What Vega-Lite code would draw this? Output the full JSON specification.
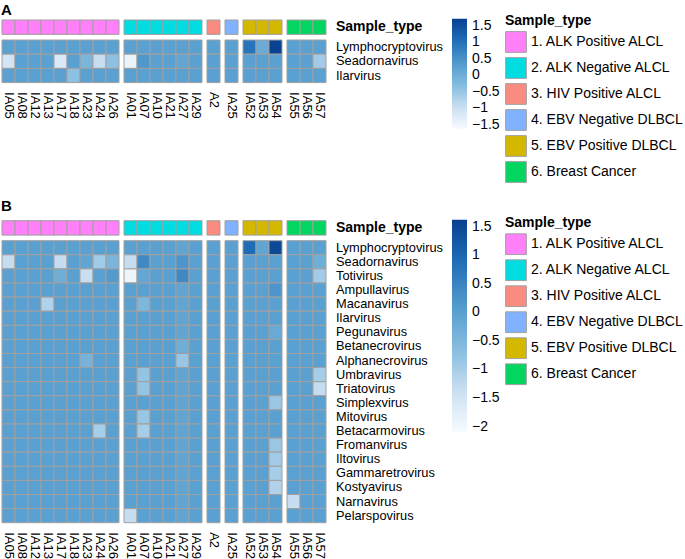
{
"$schema":"https://vega.github.io/schema/vega-lite/v6.json",
"padding":{"left":1,"top":2,"right":0,"bottom":0},
"autosize":{"type":"pad"},
"config":{"font":"Liberation Sans","view":{"stroke":null},
 "axis":{"labelColor":"#000","labelFont":"Liberation Sans"},
 "legend":{"labelColor":"#000","titleColor":"#000","labelFont":"Liberation Sans","titleFont":"Liberation Sans"},
 "title":{"color":"#000","font":"Liberation Sans"}},
"datasets":{
"annot":[
{"sample":"IA05","type":"1. ALK Positive ALCL"},{"sample":"IA08","type":"1. ALK Positive ALCL"},{"sample":"IA12","type":"1. ALK Positive ALCL"},{"sample":"IA13","type":"1. ALK Positive ALCL"},{"sample":"IA17","type":"1. ALK Positive ALCL"},{"sample":"IA18","type":"1. ALK Positive ALCL"},{"sample":"IA23","type":"1. ALK Positive ALCL"},{"sample":"IA24","type":"1. ALK Positive ALCL"},{"sample":"IA26","type":"1. ALK Positive ALCL"},
{"sample":"IA01","type":"2. ALK Negative ALCL"},{"sample":"IA07","type":"2. ALK Negative ALCL"},{"sample":"IA10","type":"2. ALK Negative ALCL"},{"sample":"IA21","type":"2. ALK Negative ALCL"},{"sample":"IA27","type":"2. ALK Negative ALCL"},{"sample":"IA29","type":"2. ALK Negative ALCL"},
{"sample":"A2","type":"3. HIV Positive ALCL"},
{"sample":"IA25","type":"4. EBV Negative DLBCL"},
{"sample":"IA52","type":"5. EBV Positive DLBCL"},{"sample":"IA53","type":"5. EBV Positive DLBCL"},{"sample":"IA54","type":"5. EBV Positive DLBCL"},
{"sample":"IA55","type":"6. Breast Cancer"},{"sample":"IA56","type":"6. Breast Cancer"},{"sample":"IA57","type":"6. Breast Cancer"}],
"heatA":[
{"sample":"IA05","virus":"Lymphocryptovirus","z":0.26},{"sample":"IA08","virus":"Lymphocryptovirus","z":0.26},{"sample":"IA12","virus":"Lymphocryptovirus","z":0.26},{"sample":"IA13","virus":"Lymphocryptovirus","z":0.26},{"sample":"IA17","virus":"Lymphocryptovirus","z":0.26},{"sample":"IA18","virus":"Lymphocryptovirus","z":0.26},{"sample":"IA23","virus":"Lymphocryptovirus","z":0.26},{"sample":"IA24","virus":"Lymphocryptovirus","z":0.26},{"sample":"IA26","virus":"Lymphocryptovirus","z":0.26},{"sample":"IA01","virus":"Lymphocryptovirus","z":0.26},{"sample":"IA07","virus":"Lymphocryptovirus","z":0.26},{"sample":"IA10","virus":"Lymphocryptovirus","z":0.26},{"sample":"IA21","virus":"Lymphocryptovirus","z":0.26},{"sample":"IA27","virus":"Lymphocryptovirus","z":0.26},{"sample":"IA29","virus":"Lymphocryptovirus","z":0.26},{"sample":"A2","virus":"Lymphocryptovirus","z":0.26},{"sample":"IA25","virus":"Lymphocryptovirus","z":0.26},{"sample":"IA52","virus":"Lymphocryptovirus","z":0.95},{"sample":"IA53","virus":"Lymphocryptovirus","z":0.05},{"sample":"IA54","virus":"Lymphocryptovirus","z":1.68},{"sample":"IA55","virus":"Lymphocryptovirus","z":0.26},{"sample":"IA56","virus":"Lymphocryptovirus","z":0.26},{"sample":"IA57","virus":"Lymphocryptovirus","z":0.26},
{"sample":"IA05","virus":"Seadornavirus","z":-1.1},{"sample":"IA08","virus":"Seadornavirus","z":0.26},{"sample":"IA12","virus":"Seadornavirus","z":0.26},{"sample":"IA13","virus":"Seadornavirus","z":0.26},{"sample":"IA17","virus":"Seadornavirus","z":-1.2},{"sample":"IA18","virus":"Seadornavirus","z":0.26},{"sample":"IA23","virus":"Seadornavirus","z":-0.15},{"sample":"IA24","virus":"Seadornavirus","z":-0.93},{"sample":"IA26","virus":"Seadornavirus","z":-0.4},{"sample":"IA01","virus":"Seadornavirus","z":-1.45},{"sample":"IA07","virus":"Seadornavirus","z":0.4},{"sample":"IA10","virus":"Seadornavirus","z":0.26},{"sample":"IA21","virus":"Seadornavirus","z":0.26},{"sample":"IA27","virus":"Seadornavirus","z":0.15},{"sample":"IA29","virus":"Seadornavirus","z":0.26},{"sample":"A2","virus":"Seadornavirus","z":0.26},{"sample":"IA25","virus":"Seadornavirus","z":0.26},{"sample":"IA52","virus":"Seadornavirus","z":0.26},{"sample":"IA53","virus":"Seadornavirus","z":0.26},{"sample":"IA54","virus":"Seadornavirus","z":0.26},{"sample":"IA55","virus":"Seadornavirus","z":0.26},{"sample":"IA56","virus":"Seadornavirus","z":0.26},{"sample":"IA57","virus":"Seadornavirus","z":-0.6},
{"sample":"IA05","virus":"Ilarvirus","z":0.26},{"sample":"IA08","virus":"Ilarvirus","z":0.26},{"sample":"IA12","virus":"Ilarvirus","z":0.26},{"sample":"IA13","virus":"Ilarvirus","z":0.26},{"sample":"IA17","virus":"Ilarvirus","z":0.26},{"sample":"IA18","virus":"Ilarvirus","z":-0.4},{"sample":"IA23","virus":"Ilarvirus","z":0.26},{"sample":"IA24","virus":"Ilarvirus","z":0.26},{"sample":"IA26","virus":"Ilarvirus","z":0.26},{"sample":"IA01","virus":"Ilarvirus","z":0.26},{"sample":"IA07","virus":"Ilarvirus","z":0.26},{"sample":"IA10","virus":"Ilarvirus","z":0.26},{"sample":"IA21","virus":"Ilarvirus","z":0.26},{"sample":"IA27","virus":"Ilarvirus","z":0.26},{"sample":"IA29","virus":"Ilarvirus","z":0.26},{"sample":"A2","virus":"Ilarvirus","z":0.26},{"sample":"IA25","virus":"Ilarvirus","z":0.26},{"sample":"IA52","virus":"Ilarvirus","z":0.26},{"sample":"IA53","virus":"Ilarvirus","z":0.26},{"sample":"IA54","virus":"Ilarvirus","z":0.26},{"sample":"IA55","virus":"Ilarvirus","z":0.26},{"sample":"IA56","virus":"Ilarvirus","z":0.26},{"sample":"IA57","virus":"Ilarvirus","z":0.26}],
"heatB":[
{"sample":"IA05","virus":"Lymphocryptovirus","z":0},{"sample":"IA08","virus":"Lymphocryptovirus","z":0},{"sample":"IA12","virus":"Lymphocryptovirus","z":0},{"sample":"IA13","virus":"Lymphocryptovirus","z":0},{"sample":"IA17","virus":"Lymphocryptovirus","z":0},{"sample":"IA18","virus":"Lymphocryptovirus","z":0},{"sample":"IA23","virus":"Lymphocryptovirus","z":0},{"sample":"IA24","virus":"Lymphocryptovirus","z":0},{"sample":"IA26","virus":"Lymphocryptovirus","z":0},{"sample":"IA01","virus":"Lymphocryptovirus","z":0},{"sample":"IA07","virus":"Lymphocryptovirus","z":0},{"sample":"IA10","virus":"Lymphocryptovirus","z":0},{"sample":"IA21","virus":"Lymphocryptovirus","z":0},{"sample":"IA27","virus":"Lymphocryptovirus","z":-0.1},{"sample":"IA29","virus":"Lymphocryptovirus","z":0},{"sample":"A2","virus":"Lymphocryptovirus","z":0},{"sample":"IA25","virus":"Lymphocryptovirus","z":0},{"sample":"IA52","virus":"Lymphocryptovirus","z":0.9},{"sample":"IA53","virus":"Lymphocryptovirus","z":-0.1},{"sample":"IA54","virus":"Lymphocryptovirus","z":1.5},{"sample":"IA55","virus":"Lymphocryptovirus","z":0},{"sample":"IA56","virus":"Lymphocryptovirus","z":0},{"sample":"IA57","virus":"Lymphocryptovirus","z":0},
{"sample":"IA05","virus":"Seadornavirus","z":-1.3},{"sample":"IA08","virus":"Seadornavirus","z":0},{"sample":"IA12","virus":"Seadornavirus","z":0},{"sample":"IA13","virus":"Seadornavirus","z":0},{"sample":"IA17","virus":"Seadornavirus","z":-1.3},{"sample":"IA18","virus":"Seadornavirus","z":0},{"sample":"IA23","virus":"Seadornavirus","z":-0.1},{"sample":"IA24","virus":"Seadornavirus","z":-0.95},{"sample":"IA26","virus":"Seadornavirus","z":-0.45},{"sample":"IA01","virus":"Seadornavirus","z":-1.3},{"sample":"IA07","virus":"Seadornavirus","z":0.4},{"sample":"IA10","virus":"Seadornavirus","z":0},{"sample":"IA21","virus":"Seadornavirus","z":0},{"sample":"IA27","virus":"Seadornavirus","z":0.2},{"sample":"IA29","virus":"Seadornavirus","z":0},{"sample":"A2","virus":"Seadornavirus","z":0},{"sample":"IA25","virus":"Seadornavirus","z":0},{"sample":"IA52","virus":"Seadornavirus","z":0},{"sample":"IA53","virus":"Seadornavirus","z":0},{"sample":"IA54","virus":"Seadornavirus","z":0},{"sample":"IA55","virus":"Seadornavirus","z":0},{"sample":"IA56","virus":"Seadornavirus","z":0},{"sample":"IA57","virus":"Seadornavirus","z":-0.3},
{"sample":"IA05","virus":"Totivirus","z":0},{"sample":"IA08","virus":"Totivirus","z":0},{"sample":"IA12","virus":"Totivirus","z":0},{"sample":"IA13","virus":"Totivirus","z":0},{"sample":"IA17","virus":"Totivirus","z":-0.3},{"sample":"IA18","virus":"Totivirus","z":0},{"sample":"IA23","virus":"Totivirus","z":-1.35},{"sample":"IA24","virus":"Totivirus","z":0},{"sample":"IA26","virus":"Totivirus","z":0.1},{"sample":"IA01","virus":"Totivirus","z":-1.95},{"sample":"IA07","virus":"Totivirus","z":-0.15},{"sample":"IA10","virus":"Totivirus","z":0},{"sample":"IA21","virus":"Totivirus","z":0},{"sample":"IA27","virus":"Totivirus","z":0.4},{"sample":"IA29","virus":"Totivirus","z":0},{"sample":"A2","virus":"Totivirus","z":0},{"sample":"IA25","virus":"Totivirus","z":0},{"sample":"IA52","virus":"Totivirus","z":0},{"sample":"IA53","virus":"Totivirus","z":0},{"sample":"IA54","virus":"Totivirus","z":0},{"sample":"IA55","virus":"Totivirus","z":0},{"sample":"IA56","virus":"Totivirus","z":0},{"sample":"IA57","virus":"Totivirus","z":-0.95},
{"sample":"IA05","virus":"Ampullavirus","z":0},{"sample":"IA08","virus":"Ampullavirus","z":0},{"sample":"IA12","virus":"Ampullavirus","z":0},{"sample":"IA13","virus":"Ampullavirus","z":0},{"sample":"IA17","virus":"Ampullavirus","z":0},{"sample":"IA18","virus":"Ampullavirus","z":0},{"sample":"IA23","virus":"Ampullavirus","z":0},{"sample":"IA24","virus":"Ampullavirus","z":0},{"sample":"IA26","virus":"Ampullavirus","z":0},{"sample":"IA01","virus":"Ampullavirus","z":0},{"sample":"IA07","virus":"Ampullavirus","z":0},{"sample":"IA10","virus":"Ampullavirus","z":0},{"sample":"IA21","virus":"Ampullavirus","z":0},{"sample":"IA27","virus":"Ampullavirus","z":-0.1},{"sample":"IA29","virus":"Ampullavirus","z":0},{"sample":"A2","virus":"Ampullavirus","z":0},{"sample":"IA25","virus":"Ampullavirus","z":0},{"sample":"IA52","virus":"Ampullavirus","z":0},{"sample":"IA53","virus":"Ampullavirus","z":0},{"sample":"IA54","virus":"Ampullavirus","z":0.2},{"sample":"IA55","virus":"Ampullavirus","z":0},{"sample":"IA56","virus":"Ampullavirus","z":0},{"sample":"IA57","virus":"Ampullavirus","z":0},
{"sample":"IA05","virus":"Macanavirus","z":0},{"sample":"IA08","virus":"Macanavirus","z":0},{"sample":"IA12","virus":"Macanavirus","z":0},{"sample":"IA13","virus":"Macanavirus","z":-1.1},{"sample":"IA17","virus":"Macanavirus","z":0},{"sample":"IA18","virus":"Macanavirus","z":0},{"sample":"IA23","virus":"Macanavirus","z":0},{"sample":"IA24","virus":"Macanavirus","z":0},{"sample":"IA26","virus":"Macanavirus","z":0},{"sample":"IA01","virus":"Macanavirus","z":0},{"sample":"IA07","virus":"Macanavirus","z":-0.5},{"sample":"IA10","virus":"Macanavirus","z":0},{"sample":"IA21","virus":"Macanavirus","z":0},{"sample":"IA27","virus":"Macanavirus","z":-0.1},{"sample":"IA29","virus":"Macanavirus","z":0},{"sample":"A2","virus":"Macanavirus","z":0},{"sample":"IA25","virus":"Macanavirus","z":0},{"sample":"IA52","virus":"Macanavirus","z":0},{"sample":"IA53","virus":"Macanavirus","z":0},{"sample":"IA54","virus":"Macanavirus","z":0},{"sample":"IA55","virus":"Macanavirus","z":0},{"sample":"IA56","virus":"Macanavirus","z":0},{"sample":"IA57","virus":"Macanavirus","z":0},
{"sample":"IA05","virus":"Ilarvirus","z":0},{"sample":"IA08","virus":"Ilarvirus","z":0},{"sample":"IA12","virus":"Ilarvirus","z":0},{"sample":"IA13","virus":"Ilarvirus","z":0},{"sample":"IA17","virus":"Ilarvirus","z":0},{"sample":"IA18","virus":"Ilarvirus","z":0},{"sample":"IA23","virus":"Ilarvirus","z":0},{"sample":"IA24","virus":"Ilarvirus","z":0},{"sample":"IA26","virus":"Ilarvirus","z":0},{"sample":"IA01","virus":"Ilarvirus","z":0},{"sample":"IA07","virus":"Ilarvirus","z":0},{"sample":"IA10","virus":"Ilarvirus","z":0},{"sample":"IA21","virus":"Ilarvirus","z":0},{"sample":"IA27","virus":"Ilarvirus","z":-0.1},{"sample":"IA29","virus":"Ilarvirus","z":0},{"sample":"A2","virus":"Ilarvirus","z":0},{"sample":"IA25","virus":"Ilarvirus","z":0},{"sample":"IA52","virus":"Ilarvirus","z":0},{"sample":"IA53","virus":"Ilarvirus","z":0},{"sample":"IA54","virus":"Ilarvirus","z":0},{"sample":"IA55","virus":"Ilarvirus","z":0},{"sample":"IA56","virus":"Ilarvirus","z":0},{"sample":"IA57","virus":"Ilarvirus","z":0},
{"sample":"IA05","virus":"Pegunavirus","z":0},{"sample":"IA08","virus":"Pegunavirus","z":0},{"sample":"IA12","virus":"Pegunavirus","z":0},{"sample":"IA13","virus":"Pegunavirus","z":0},{"sample":"IA17","virus":"Pegunavirus","z":0},{"sample":"IA18","virus":"Pegunavirus","z":0},{"sample":"IA23","virus":"Pegunavirus","z":0},{"sample":"IA24","virus":"Pegunavirus","z":0},{"sample":"IA26","virus":"Pegunavirus","z":0},{"sample":"IA01","virus":"Pegunavirus","z":0},{"sample":"IA07","virus":"Pegunavirus","z":0},{"sample":"IA10","virus":"Pegunavirus","z":0},{"sample":"IA21","virus":"Pegunavirus","z":0},{"sample":"IA27","virus":"Pegunavirus","z":-0.1},{"sample":"IA29","virus":"Pegunavirus","z":0},{"sample":"A2","virus":"Pegunavirus","z":0},{"sample":"IA25","virus":"Pegunavirus","z":0},{"sample":"IA52","virus":"Pegunavirus","z":0},{"sample":"IA53","virus":"Pegunavirus","z":0},{"sample":"IA54","virus":"Pegunavirus","z":-0.2},{"sample":"IA55","virus":"Pegunavirus","z":0},{"sample":"IA56","virus":"Pegunavirus","z":0},{"sample":"IA57","virus":"Pegunavirus","z":0},
{"sample":"IA05","virus":"Betanecrovirus","z":0},{"sample":"IA08","virus":"Betanecrovirus","z":0},{"sample":"IA12","virus":"Betanecrovirus","z":0},{"sample":"IA13","virus":"Betanecrovirus","z":0},{"sample":"IA17","virus":"Betanecrovirus","z":0},{"sample":"IA18","virus":"Betanecrovirus","z":0},{"sample":"IA23","virus":"Betanecrovirus","z":0},{"sample":"IA24","virus":"Betanecrovirus","z":0},{"sample":"IA26","virus":"Betanecrovirus","z":0},{"sample":"IA01","virus":"Betanecrovirus","z":0},{"sample":"IA07","virus":"Betanecrovirus","z":0},{"sample":"IA10","virus":"Betanecrovirus","z":0},{"sample":"IA21","virus":"Betanecrovirus","z":0},{"sample":"IA27","virus":"Betanecrovirus","z":-0.3},{"sample":"IA29","virus":"Betanecrovirus","z":0},{"sample":"A2","virus":"Betanecrovirus","z":0},{"sample":"IA25","virus":"Betanecrovirus","z":0},{"sample":"IA52","virus":"Betanecrovirus","z":0},{"sample":"IA53","virus":"Betanecrovirus","z":0},{"sample":"IA54","virus":"Betanecrovirus","z":0},{"sample":"IA55","virus":"Betanecrovirus","z":0},{"sample":"IA56","virus":"Betanecrovirus","z":0},{"sample":"IA57","virus":"Betanecrovirus","z":0},
{"sample":"IA05","virus":"Alphanecrovirus","z":0},{"sample":"IA08","virus":"Alphanecrovirus","z":0},{"sample":"IA12","virus":"Alphanecrovirus","z":0},{"sample":"IA13","virus":"Alphanecrovirus","z":0},{"sample":"IA17","virus":"Alphanecrovirus","z":0},{"sample":"IA18","virus":"Alphanecrovirus","z":0},{"sample":"IA23","virus":"Alphanecrovirus","z":-0.4},{"sample":"IA24","virus":"Alphanecrovirus","z":0},{"sample":"IA26","virus":"Alphanecrovirus","z":0},{"sample":"IA01","virus":"Alphanecrovirus","z":0},{"sample":"IA07","virus":"Alphanecrovirus","z":0},{"sample":"IA10","virus":"Alphanecrovirus","z":0},{"sample":"IA21","virus":"Alphanecrovirus","z":0},{"sample":"IA27","virus":"Alphanecrovirus","z":-0.85},{"sample":"IA29","virus":"Alphanecrovirus","z":0},{"sample":"A2","virus":"Alphanecrovirus","z":0},{"sample":"IA25","virus":"Alphanecrovirus","z":0},{"sample":"IA52","virus":"Alphanecrovirus","z":0},{"sample":"IA53","virus":"Alphanecrovirus","z":0},{"sample":"IA54","virus":"Alphanecrovirus","z":0},{"sample":"IA55","virus":"Alphanecrovirus","z":0},{"sample":"IA56","virus":"Alphanecrovirus","z":0},{"sample":"IA57","virus":"Alphanecrovirus","z":0},
{"sample":"IA05","virus":"Umbravirus","z":0},{"sample":"IA08","virus":"Umbravirus","z":0},{"sample":"IA12","virus":"Umbravirus","z":0},{"sample":"IA13","virus":"Umbravirus","z":0},{"sample":"IA17","virus":"Umbravirus","z":0},{"sample":"IA18","virus":"Umbravirus","z":0},{"sample":"IA23","virus":"Umbravirus","z":0},{"sample":"IA24","virus":"Umbravirus","z":0},{"sample":"IA26","virus":"Umbravirus","z":0},{"sample":"IA01","virus":"Umbravirus","z":0},{"sample":"IA07","virus":"Umbravirus","z":-0.8},{"sample":"IA10","virus":"Umbravirus","z":0},{"sample":"IA21","virus":"Umbravirus","z":0},{"sample":"IA27","virus":"Umbravirus","z":-0.1},{"sample":"IA29","virus":"Umbravirus","z":0},{"sample":"A2","virus":"Umbravirus","z":0},{"sample":"IA25","virus":"Umbravirus","z":0},{"sample":"IA52","virus":"Umbravirus","z":0},{"sample":"IA53","virus":"Umbravirus","z":0},{"sample":"IA54","virus":"Umbravirus","z":0},{"sample":"IA55","virus":"Umbravirus","z":0},{"sample":"IA56","virus":"Umbravirus","z":0},{"sample":"IA57","virus":"Umbravirus","z":-1.0},
{"sample":"IA05","virus":"Triatovirus","z":0},{"sample":"IA08","virus":"Triatovirus","z":0},{"sample":"IA12","virus":"Triatovirus","z":0},{"sample":"IA13","virus":"Triatovirus","z":0},{"sample":"IA17","virus":"Triatovirus","z":0},{"sample":"IA18","virus":"Triatovirus","z":0},{"sample":"IA23","virus":"Triatovirus","z":0},{"sample":"IA24","virus":"Triatovirus","z":0},{"sample":"IA26","virus":"Triatovirus","z":0},{"sample":"IA01","virus":"Triatovirus","z":0},{"sample":"IA07","virus":"Triatovirus","z":-0.8},{"sample":"IA10","virus":"Triatovirus","z":0},{"sample":"IA21","virus":"Triatovirus","z":0},{"sample":"IA27","virus":"Triatovirus","z":-0.1},{"sample":"IA29","virus":"Triatovirus","z":0},{"sample":"A2","virus":"Triatovirus","z":0},{"sample":"IA25","virus":"Triatovirus","z":0},{"sample":"IA52","virus":"Triatovirus","z":0},{"sample":"IA53","virus":"Triatovirus","z":0},{"sample":"IA54","virus":"Triatovirus","z":0},{"sample":"IA55","virus":"Triatovirus","z":0},{"sample":"IA56","virus":"Triatovirus","z":0},{"sample":"IA57","virus":"Triatovirus","z":-1.3},
{"sample":"IA05","virus":"Simplexvirus","z":0},{"sample":"IA08","virus":"Simplexvirus","z":0},{"sample":"IA12","virus":"Simplexvirus","z":0},{"sample":"IA13","virus":"Simplexvirus","z":0},{"sample":"IA17","virus":"Simplexvirus","z":0},{"sample":"IA18","virus":"Simplexvirus","z":0},{"sample":"IA23","virus":"Simplexvirus","z":0},{"sample":"IA24","virus":"Simplexvirus","z":0},{"sample":"IA26","virus":"Simplexvirus","z":0},{"sample":"IA01","virus":"Simplexvirus","z":0},{"sample":"IA07","virus":"Simplexvirus","z":0},{"sample":"IA10","virus":"Simplexvirus","z":0},{"sample":"IA21","virus":"Simplexvirus","z":0},{"sample":"IA27","virus":"Simplexvirus","z":-0.1},{"sample":"IA29","virus":"Simplexvirus","z":0},{"sample":"A2","virus":"Simplexvirus","z":0},{"sample":"IA25","virus":"Simplexvirus","z":0},{"sample":"IA52","virus":"Simplexvirus","z":0},{"sample":"IA53","virus":"Simplexvirus","z":0},{"sample":"IA54","virus":"Simplexvirus","z":-0.85},{"sample":"IA55","virus":"Simplexvirus","z":0},{"sample":"IA56","virus":"Simplexvirus","z":0},{"sample":"IA57","virus":"Simplexvirus","z":0},
{"sample":"IA05","virus":"Mitovirus","z":0},{"sample":"IA08","virus":"Mitovirus","z":0},{"sample":"IA12","virus":"Mitovirus","z":0},{"sample":"IA13","virus":"Mitovirus","z":0},{"sample":"IA17","virus":"Mitovirus","z":0},{"sample":"IA18","virus":"Mitovirus","z":0},{"sample":"IA23","virus":"Mitovirus","z":0},{"sample":"IA24","virus":"Mitovirus","z":0},{"sample":"IA26","virus":"Mitovirus","z":0},{"sample":"IA01","virus":"Mitovirus","z":0},{"sample":"IA07","virus":"Mitovirus","z":-0.85},{"sample":"IA10","virus":"Mitovirus","z":0},{"sample":"IA21","virus":"Mitovirus","z":0},{"sample":"IA27","virus":"Mitovirus","z":-0.1},{"sample":"IA29","virus":"Mitovirus","z":0},{"sample":"A2","virus":"Mitovirus","z":0},{"sample":"IA25","virus":"Mitovirus","z":0},{"sample":"IA52","virus":"Mitovirus","z":0},{"sample":"IA53","virus":"Mitovirus","z":0},{"sample":"IA54","virus":"Mitovirus","z":0},{"sample":"IA55","virus":"Mitovirus","z":0},{"sample":"IA56","virus":"Mitovirus","z":0},{"sample":"IA57","virus":"Mitovirus","z":0},
{"sample":"IA05","virus":"Betacarmovirus","z":0},{"sample":"IA08","virus":"Betacarmovirus","z":0},{"sample":"IA12","virus":"Betacarmovirus","z":0},{"sample":"IA13","virus":"Betacarmovirus","z":0},{"sample":"IA17","virus":"Betacarmovirus","z":0},{"sample":"IA18","virus":"Betacarmovirus","z":0},{"sample":"IA23","virus":"Betacarmovirus","z":0},{"sample":"IA24","virus":"Betacarmovirus","z":-1.0},{"sample":"IA26","virus":"Betacarmovirus","z":0},{"sample":"IA01","virus":"Betacarmovirus","z":0},{"sample":"IA07","virus":"Betacarmovirus","z":-1.0},{"sample":"IA10","virus":"Betacarmovirus","z":0},{"sample":"IA21","virus":"Betacarmovirus","z":0},{"sample":"IA27","virus":"Betacarmovirus","z":-0.1},{"sample":"IA29","virus":"Betacarmovirus","z":0},{"sample":"A2","virus":"Betacarmovirus","z":0},{"sample":"IA25","virus":"Betacarmovirus","z":0},{"sample":"IA52","virus":"Betacarmovirus","z":0},{"sample":"IA53","virus":"Betacarmovirus","z":0},{"sample":"IA54","virus":"Betacarmovirus","z":0},{"sample":"IA55","virus":"Betacarmovirus","z":0},{"sample":"IA56","virus":"Betacarmovirus","z":0},{"sample":"IA57","virus":"Betacarmovirus","z":0},
{"sample":"IA05","virus":"Fromanvirus","z":0},{"sample":"IA08","virus":"Fromanvirus","z":0},{"sample":"IA12","virus":"Fromanvirus","z":0},{"sample":"IA13","virus":"Fromanvirus","z":0},{"sample":"IA17","virus":"Fromanvirus","z":0},{"sample":"IA18","virus":"Fromanvirus","z":0},{"sample":"IA23","virus":"Fromanvirus","z":0},{"sample":"IA24","virus":"Fromanvirus","z":0},{"sample":"IA26","virus":"Fromanvirus","z":0},{"sample":"IA01","virus":"Fromanvirus","z":0},{"sample":"IA07","virus":"Fromanvirus","z":0},{"sample":"IA10","virus":"Fromanvirus","z":0},{"sample":"IA21","virus":"Fromanvirus","z":0},{"sample":"IA27","virus":"Fromanvirus","z":-0.1},{"sample":"IA29","virus":"Fromanvirus","z":0},{"sample":"A2","virus":"Fromanvirus","z":0},{"sample":"IA25","virus":"Fromanvirus","z":0},{"sample":"IA52","virus":"Fromanvirus","z":0},{"sample":"IA53","virus":"Fromanvirus","z":0},{"sample":"IA54","virus":"Fromanvirus","z":-0.85},{"sample":"IA55","virus":"Fromanvirus","z":0},{"sample":"IA56","virus":"Fromanvirus","z":0},{"sample":"IA57","virus":"Fromanvirus","z":0},
{"sample":"IA05","virus":"Iltovirus","z":0},{"sample":"IA08","virus":"Iltovirus","z":0},{"sample":"IA12","virus":"Iltovirus","z":0},{"sample":"IA13","virus":"Iltovirus","z":0},{"sample":"IA17","virus":"Iltovirus","z":0},{"sample":"IA18","virus":"Iltovirus","z":0},{"sample":"IA23","virus":"Iltovirus","z":0},{"sample":"IA24","virus":"Iltovirus","z":0},{"sample":"IA26","virus":"Iltovirus","z":0},{"sample":"IA01","virus":"Iltovirus","z":0},{"sample":"IA07","virus":"Iltovirus","z":0},{"sample":"IA10","virus":"Iltovirus","z":0},{"sample":"IA21","virus":"Iltovirus","z":0},{"sample":"IA27","virus":"Iltovirus","z":-0.1},{"sample":"IA29","virus":"Iltovirus","z":0},{"sample":"A2","virus":"Iltovirus","z":0},{"sample":"IA25","virus":"Iltovirus","z":0},{"sample":"IA52","virus":"Iltovirus","z":0},{"sample":"IA53","virus":"Iltovirus","z":0},{"sample":"IA54","virus":"Iltovirus","z":-0.95},{"sample":"IA55","virus":"Iltovirus","z":0},{"sample":"IA56","virus":"Iltovirus","z":0},{"sample":"IA57","virus":"Iltovirus","z":0},
{"sample":"IA05","virus":"Gammaretrovirus","z":0},{"sample":"IA08","virus":"Gammaretrovirus","z":0},{"sample":"IA12","virus":"Gammaretrovirus","z":0},{"sample":"IA13","virus":"Gammaretrovirus","z":0},{"sample":"IA17","virus":"Gammaretrovirus","z":0},{"sample":"IA18","virus":"Gammaretrovirus","z":0},{"sample":"IA23","virus":"Gammaretrovirus","z":0},{"sample":"IA24","virus":"Gammaretrovirus","z":0},{"sample":"IA26","virus":"Gammaretrovirus","z":0},{"sample":"IA01","virus":"Gammaretrovirus","z":0},{"sample":"IA07","virus":"Gammaretrovirus","z":0},{"sample":"IA10","virus":"Gammaretrovirus","z":0},{"sample":"IA21","virus":"Gammaretrovirus","z":0},{"sample":"IA27","virus":"Gammaretrovirus","z":-0.1},{"sample":"IA29","virus":"Gammaretrovirus","z":0},{"sample":"A2","virus":"Gammaretrovirus","z":0},{"sample":"IA25","virus":"Gammaretrovirus","z":0},{"sample":"IA52","virus":"Gammaretrovirus","z":0},{"sample":"IA53","virus":"Gammaretrovirus","z":0},{"sample":"IA54","virus":"Gammaretrovirus","z":-1.0},{"sample":"IA55","virus":"Gammaretrovirus","z":0},{"sample":"IA56","virus":"Gammaretrovirus","z":0},{"sample":"IA57","virus":"Gammaretrovirus","z":0},
{"sample":"IA05","virus":"Kostyavirus","z":0},{"sample":"IA08","virus":"Kostyavirus","z":0},{"sample":"IA12","virus":"Kostyavirus","z":0},{"sample":"IA13","virus":"Kostyavirus","z":0},{"sample":"IA17","virus":"Kostyavirus","z":0},{"sample":"IA18","virus":"Kostyavirus","z":0},{"sample":"IA23","virus":"Kostyavirus","z":0},{"sample":"IA24","virus":"Kostyavirus","z":0},{"sample":"IA26","virus":"Kostyavirus","z":0},{"sample":"IA01","virus":"Kostyavirus","z":0},{"sample":"IA07","virus":"Kostyavirus","z":0},{"sample":"IA10","virus":"Kostyavirus","z":0},{"sample":"IA21","virus":"Kostyavirus","z":0},{"sample":"IA27","virus":"Kostyavirus","z":-0.1},{"sample":"IA29","virus":"Kostyavirus","z":0},{"sample":"A2","virus":"Kostyavirus","z":0},{"sample":"IA25","virus":"Kostyavirus","z":0},{"sample":"IA52","virus":"Kostyavirus","z":0},{"sample":"IA53","virus":"Kostyavirus","z":0},{"sample":"IA54","virus":"Kostyavirus","z":-1.1},{"sample":"IA55","virus":"Kostyavirus","z":0},{"sample":"IA56","virus":"Kostyavirus","z":0},{"sample":"IA57","virus":"Kostyavirus","z":0},
{"sample":"IA05","virus":"Narnavirus","z":0},{"sample":"IA08","virus":"Narnavirus","z":0},{"sample":"IA12","virus":"Narnavirus","z":0},{"sample":"IA13","virus":"Narnavirus","z":0},{"sample":"IA17","virus":"Narnavirus","z":0},{"sample":"IA18","virus":"Narnavirus","z":0},{"sample":"IA23","virus":"Narnavirus","z":0},{"sample":"IA24","virus":"Narnavirus","z":0},{"sample":"IA26","virus":"Narnavirus","z":0},{"sample":"IA01","virus":"Narnavirus","z":0},{"sample":"IA07","virus":"Narnavirus","z":0},{"sample":"IA10","virus":"Narnavirus","z":0},{"sample":"IA21","virus":"Narnavirus","z":0},{"sample":"IA27","virus":"Narnavirus","z":-0.1},{"sample":"IA29","virus":"Narnavirus","z":0},{"sample":"A2","virus":"Narnavirus","z":0},{"sample":"IA25","virus":"Narnavirus","z":0},{"sample":"IA52","virus":"Narnavirus","z":0},{"sample":"IA53","virus":"Narnavirus","z":0},{"sample":"IA54","virus":"Narnavirus","z":0},{"sample":"IA55","virus":"Narnavirus","z":-1.3},{"sample":"IA56","virus":"Narnavirus","z":0},{"sample":"IA57","virus":"Narnavirus","z":0},
{"sample":"IA05","virus":"Pelarspovirus","z":0},{"sample":"IA08","virus":"Pelarspovirus","z":0},{"sample":"IA12","virus":"Pelarspovirus","z":0},{"sample":"IA13","virus":"Pelarspovirus","z":0},{"sample":"IA17","virus":"Pelarspovirus","z":0},{"sample":"IA18","virus":"Pelarspovirus","z":0},{"sample":"IA23","virus":"Pelarspovirus","z":0},{"sample":"IA24","virus":"Pelarspovirus","z":0},{"sample":"IA26","virus":"Pelarspovirus","z":0},{"sample":"IA01","virus":"Pelarspovirus","z":-1.3},{"sample":"IA07","virus":"Pelarspovirus","z":0},{"sample":"IA10","virus":"Pelarspovirus","z":0},{"sample":"IA21","virus":"Pelarspovirus","z":0},{"sample":"IA27","virus":"Pelarspovirus","z":-0.1},{"sample":"IA29","virus":"Pelarspovirus","z":0},{"sample":"A2","virus":"Pelarspovirus","z":0},{"sample":"IA25","virus":"Pelarspovirus","z":0},{"sample":"IA52","virus":"Pelarspovirus","z":0},{"sample":"IA53","virus":"Pelarspovirus","z":0},{"sample":"IA54","virus":"Pelarspovirus","z":0},{"sample":"IA55","virus":"Pelarspovirus","z":0},{"sample":"IA56","virus":"Pelarspovirus","z":0},{"sample":"IA57","virus":"Pelarspovirus","z":0}]
},
"spacing":13.7,
"resolve":{"scale":{"color":"independent","fill":"independent"}},
"vconcat":[
{"title":{"text":"A","anchor":"start","fontSize":15,"fontWeight":"bold","offset":-3.7},
 "spacing":4,
 "vconcat":[
  {"data":{"name":"annot"},
   "facet":{"column":{"field":"type","type":"nominal","header":{"title":null,"labels":false}}},
   "spacing":5,
   "bounds":"flush",
   "resolve":{"scale":{"x":"independent"}},
   "spec":{"width":{"step":13},"height":{"step":14.4},
    "mark":{"type":"rect","stroke":"#a0a0a0","strokeWidth":1},
    "encoding":{
     "x":{"field":"sample","type":"nominal","axis":null,"scale":{"paddingInner":0,"paddingOuter":0}},
     "y":{"datum":"Sample_type","type":"nominal","scale":{"paddingInner":0,"paddingOuter":0},"axis":{"orient":"right","title":null,"ticks":false,"domain":false,"labelPadding":9.5,"labelFontSize":14,"labelFontWeight":"bold"}},
     "fill":{"field":"type","type":"nominal","scale":{"domain":["1. ALK Positive ALCL","2. ALK Negative ALCL","3. HIV Positive ALCL","4. EBV Negative DLBCL","5. EBV Positive DLBCL","6. Breast Cancer"],"range":["#FF80F8","#00DCE0","#FA8B80","#80B2FF","#D4B800","#03D660"]},
      "legend":{"orient":"none","legendX":503,"legendY":-6,"title":"Sample_type","titleFontSize":14,"titleFontWeight":"bold","titlePadding":3,"labelFontSize":14,"symbolType":"square","symbolSize":430,"symbolStrokeColor":"#a0a0a0","symbolStrokeWidth":1,"rowPadding":0,"labelOffset":4,"padding":0}}
    }}},
  {"data":{"name":"heatA"},
   "transform":[{"lookup":"sample","from":{"data":{"name":"annot"},"key":"sample","fields":["type"]}}],
   "facet":{"column":{"field":"type","type":"nominal","header":{"title":null,"labels":false}}},
   "spacing":5,
   "bounds":"flush",
   "resolve":{"scale":{"x":"independent"}},
   "spec":{"width":{"step":13},"height":{"step":14.2},
    "mark":{"type":"rect","stroke":"#a0a0a0","strokeWidth":1},
    "encoding":{
     "x":{"field":"sample","type":"nominal","scale":{"paddingInner":0,"paddingOuter":0},"axis":{"title":null,"labelAngle":90,"labelAlign":"left","labelBaseline":"middle","ticks":false,"domain":false,"labelPadding":9,"labelFontSize":13,"labelOverlap":false}},
     "y":{"field":"virus","type":"nominal","sort":["Lymphocryptovirus","Seadornavirus","Ilarvirus"],"scale":{"paddingInner":0,"paddingOuter":0},"axis":{"orient":"right","title":null,"ticks":false,"domain":false,"labelPadding":9.5,"labelFontSize":12.8}},
     "color":{"field":"z","type":"quantitative","scale":{"domain":[-1.62,-0.91,-0.46,0.26,1.06,1.71],"range":["#f7fbff","#c6dcf0","#93c4e3","#5aa0d0","#1f6db6","#08408f"],"interpolate":"rgb"},
      "legend":{"orient":"none","legendX":450,"legendY":-1.3,"direction":"vertical","title":null,"gradientLength":110,"gradientThickness":15,"gradientStrokeWidth":0,"values":[-1.5,-1,-0.5,0,0.5,1,1.5],"format":".1~f","labelFontSize":14,"labelOffset":5,"padding":0}}
    }}}
 ]},
{"title":{"text":"B","anchor":"start","fontSize":15,"fontWeight":"bold","offset":2},
 "spacing":4,
 "vconcat":[
  {"data":{"name":"annot"},
   "facet":{"column":{"field":"type","type":"nominal","header":{"title":null,"labels":false}}},
   "spacing":5,
   "bounds":"flush",
   "resolve":{"scale":{"x":"independent"}},
   "spec":{"width":{"step":13},"height":{"step":14.4},
    "mark":{"type":"rect","stroke":"#a0a0a0","strokeWidth":1},
    "encoding":{
     "x":{"field":"sample","type":"nominal","axis":null,"scale":{"paddingInner":0,"paddingOuter":0}},
     "y":{"datum":"Sample_type","type":"nominal","scale":{"paddingInner":0,"paddingOuter":0},"axis":{"orient":"right","title":null,"ticks":false,"domain":false,"labelPadding":9.5,"labelFontSize":14,"labelFontWeight":"bold"}},
     "fill":{"field":"type","type":"nominal","scale":{"domain":["1. ALK Positive ALCL","2. ALK Negative ALCL","3. HIV Positive ALCL","4. EBV Negative DLBCL","5. EBV Positive DLBCL","6. Breast Cancer"],"range":["#FF80F8","#00DCE0","#FA8B80","#80B2FF","#D4B800","#03D660"]},
      "legend":{"orient":"none","legendX":503,"legendY":-4.5,"title":"Sample_type","titleFontSize":14,"titleFontWeight":"bold","titlePadding":3,"labelFontSize":14,"symbolType":"square","symbolSize":430,"symbolStrokeColor":"#a0a0a0","symbolStrokeWidth":1,"rowPadding":0,"labelOffset":4,"padding":0}}
    }}},
  {"data":{"name":"heatB"},
   "transform":[{"lookup":"sample","from":{"data":{"name":"annot"},"key":"sample","fields":["type"]}}],
   "facet":{"column":{"field":"type","type":"nominal","header":{"title":null,"labels":false}}},
   "spacing":5,
   "bounds":"flush",
   "resolve":{"scale":{"x":"independent"}},
   "spec":{"width":{"step":13},"height":{"step":14.1},
    "mark":{"type":"rect","stroke":"#a0a0a0","strokeWidth":1},
    "encoding":{
     "x":{"field":"sample","type":"nominal","scale":{"paddingInner":0,"paddingOuter":0},"axis":{"title":null,"labelAngle":90,"labelAlign":"left","labelBaseline":"middle","ticks":false,"domain":false,"labelPadding":9,"labelFontSize":13,"labelOverlap":false}},
     "y":{"field":"virus","type":"nominal","sort":["Lymphocryptovirus","Seadornavirus","Totivirus","Ampullavirus","Macanavirus","Ilarvirus","Pegunavirus","Betanecrovirus","Alphanecrovirus","Umbravirus","Triatovirus","Simplexvirus","Mitovirus","Betacarmovirus","Fromanvirus","Iltovirus","Gammaretrovirus","Kostyavirus","Narnavirus","Pelarspovirus"],"scale":{"paddingInner":0,"paddingOuter":0},"axis":{"orient":"right","title":null,"ticks":false,"domain":false,"labelPadding":9.5,"labelFontSize":12.8}},
     "color":{"field":"z","type":"quantitative","scale":{"domain":[-2.09,-1.3,-0.8,0,0.9,1.62],"range":["#f7fbff","#c6dcf0","#93c4e3","#5aa0d0","#1f6db6","#08408f"],"interpolate":"rgb"},
      "legend":{"orient":"none","legendX":450,"legendY":-1,"direction":"vertical","title":null,"gradientLength":212,"gradientThickness":15,"gradientStrokeWidth":0,"values":[-2,-1.5,-1,-0.5,0,0.5,1,1.5],"format":".1~f","labelFontSize":14,"labelOffset":5,"padding":0}}
    }}}
 ]}
]
}
